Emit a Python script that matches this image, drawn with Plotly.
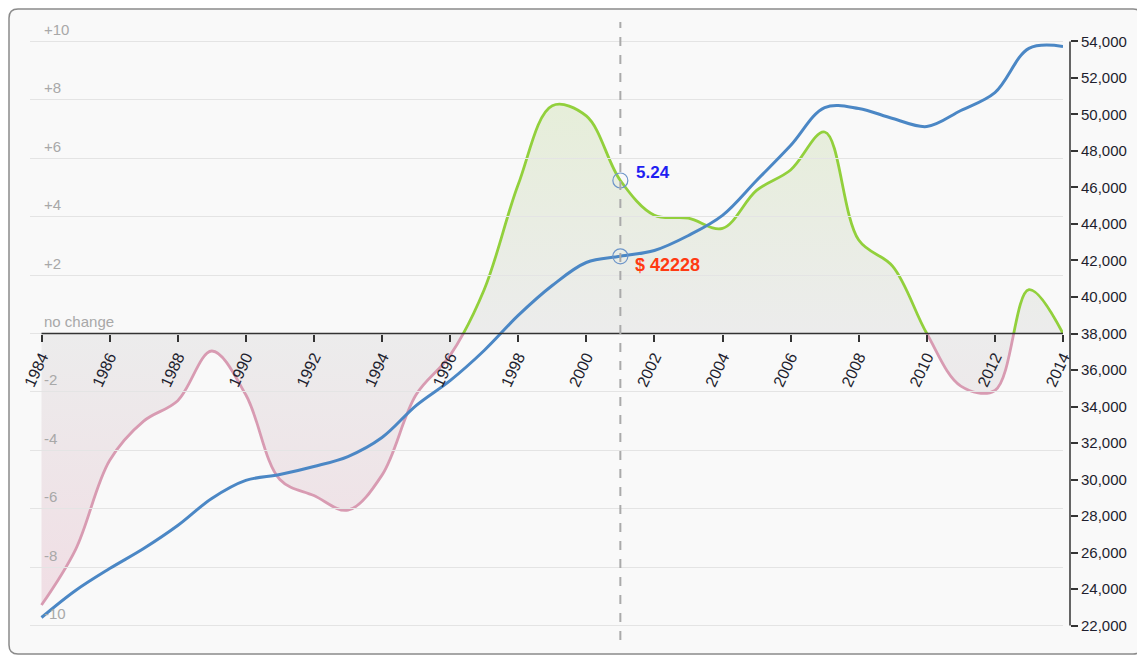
import plotly.graph_objects as go

years = list(range(1984, 2015))

# yearly change (left axis)
change = [-9.3, -7.4, -4.35, -3.0, -2.3, -0.6, -2.1, -5.0, -5.55, -6.05,
          -4.85, -2.1, -0.75, 1.5, 5.1, 7.8, 7.45, 5.24, 4.05, 3.95,
          3.6, 4.9, 5.6, 6.9, 3.2, 2.3, 0.0, -1.8, -1.95, 1.5, 0.0]

# income in dollars (right axis)
income = [22440, 23920, 25120, 26220, 27480, 28960, 29950, 30270, 30710, 31260,
          32300, 34050, 35420, 37070, 38990, 40630, 41890, 42228, 42550, 43370,
          44470, 46380, 48300, 50380, 50330, 49780, 49340, 50220, 51200, 53620,
          53730]

left_ticks = [10, 8, 6, 4, 2, 0, -2, -4, -6, -8, -10]
left_labels = ["+10", "+8", "+6", "+4", "+2", "no change", "-2", "-4", "-6", "-8", "-10"]
income_ticks = list(range(22000, 54001, 2000))

focus_year = 2001
focus_change = 5.24
focus_income = 42228

# the page body has an 8px margin, so the figure is a bit smaller
W, H = 1137, 649
L, R, T, B = 22, 82, 18, 16
PW, PH = W - L - R, H - T - B
YR = 10.53                      # half range of the change axis
INC_MID, INC_HALF = 38000, 16000 * YR / 10


def px(x):
    return (x - L) / PW


def py(y):
    return (H - B - y) / PH


def rounded_rect(x0, y0, x1, y1, r):
    # path in paper coords, corners given in pixels
    p = [
        f"M {px(x0 + r)} {py(y0)}",
        f"L {px(x1 - r)} {py(y0)}",
        f"Q {px(x1)} {py(y0)} {px(x1)} {py(y0 + r)}",
        f"L {px(x1)} {py(y1 - r)}",
        f"Q {px(x1)} {py(y1)} {px(x1 - r)} {py(y1)}",
        f"L {px(x0 + r)} {py(y1)}",
        f"Q {px(x0)} {py(y1)} {px(x0)} {py(y1 - r)}",
        f"L {px(x0)} {py(y0 + r)}",
        f"Q {px(x0)} {py(y0)} {px(x0 + r)} {py(y0)}",
        "Z",
    ]
    return " ".join(p)


xrange_ = [1984 - 11.5 / 34.05, 2014]

fig = go.Figure()

# positive part: only visible in the upper half subplot (clipped there)
fig.add_trace(go.Scatter(
    x=years, y=change, xaxis="x", yaxis="y", mode="lines",
    line=dict(color="#92d03c", width=2.8, shape="spline"),
    fill="tozeroy",
    fillgradient=dict(type="vertical", start=0, stop=8,
                      colorscale=[[0, "#ececec"], [1, "#e6eed9"]]),
    hoverinfo="skip", showlegend=False,
))

# negative part: lower half subplot
fig.add_trace(go.Scatter(
    x=years, y=change, xaxis="x", yaxis="y2", mode="lines",
    line=dict(color="#d89bb2", width=2.8, shape="spline"),
    fill="tozeroy",
    fillgradient=dict(type="vertical", start=-10, stop=0,
                      colorscale=[[0, "#f1dde4"], [1, "#ececec"]]),
    hoverinfo="skip", showlegend=False,
))

fig.add_trace(go.Scatter(
    x=years, y=income, xaxis="x2", yaxis="y4", mode="lines",
    line=dict(color="#4b87c5", width=3, shape="spline"),
    showlegend=False,
))

# focus markers
fig.add_trace(go.Scatter(
    x=[focus_year], y=[focus_change], xaxis="x2", yaxis="y3", mode="markers",
    marker=dict(symbol="circle-open", size=15, color="#6d95c9", line=dict(width=1.2)),
    showlegend=False,
))
fig.add_trace(go.Scatter(
    x=[focus_year], y=[focus_income], xaxis="x2", yaxis="y4", mode="markers",
    marker=dict(symbol="circle-open", size=15, color="#6d95c9", line=dict(width=1.2)),
    showlegend=False,
))

shapes = [
    dict(type="path", xref="paper", yref="paper", layer="below",
         path=rounded_rect(1, 1, 1134, 646, 9),
         fillcolor="#f9f9f9", line=dict(color="#8a8a8a", width=1.5)),
    dict(type="line", xref="x2", yref="y3", x0=years[0], x1=years[-1], y0=0, y1=0,
         line=dict(color="#333", width=1.5), layer="above"),
    # right axis line only spans the tick range
    dict(type="line", xref="paper", yref="y4", x0=px(1062), x1=px(1062),
         y0=income_ticks[0], y1=income_ticks[-1],
         line=dict(color="#333", width=1.5), layer="above"),
    dict(type="line", xref="x2", yref="paper", x0=focus_year, x1=focus_year,
         y0=py(632), y1=py(14), line=dict(color="#aaaaaa", width=2, dash="dash"),
         layer="above"),
]

tick_font = dict(family="Liberation Sans, Arial, sans-serif", size=15, color="#1e1e2e")

# left axis labels sit above their grid lines
annotations = [
    dict(x=px(34), y=v, xref="paper", yref="y3", text=t, showarrow=False,
         xanchor="left", yanchor="middle", yshift=12,
         font=dict(family="Liberation Sans, Arial, sans-serif", size=15, color="#a8a8a8"))
    for v, t in zip(left_ticks, left_labels)
]
annotations += [
    dict(x=focus_year, y=focus_change, xref="x2", yref="y3",
         text=f"<b>{focus_change}</b>", showarrow=False,
         xanchor="left", xshift=14, yshift=8,
         font=dict(size=17, color="#1f1ff2")),
    dict(x=focus_year, y=focus_income, xref="x2", yref="y4",
         text=f"<b>$ {focus_income}</b>", showarrow=False,
         xanchor="left", xshift=13, yshift=-9,
         font=dict(size=18, color="#ff3a12")),
]

fig.update_layout(
    width=W, height=H,
    margin=dict(l=L, r=R, t=T, b=B),
    paper_bgcolor="white",
    plot_bgcolor="rgba(0,0,0,0)",
    font=dict(family="Liberation Sans, Arial, sans-serif"),
    shapes=shapes,
    annotations=annotations,
    xaxis=dict(range=xrange_, visible=False, anchor="y"),
    xaxis2=dict(
        range=xrange_, anchor="free", position=0.5,
        tickvals=list(range(1984, 2015, 2)), tickangle=-65,
        ticks="outside", ticklen=7, tickcolor="#333", tickwidth=1.5,
        showgrid=False, zeroline=False, showline=False,
        tickfont=dict(tick_font, size=16),
    ),
    yaxis=dict(domain=[0.5, 1], range=[0, YR], visible=False, anchor="x"),
    yaxis2=dict(domain=[0, 0.5], range=[-YR, 0], visible=False, anchor="x"),
    yaxis3=dict(
        domain=[0, 1], range=[-YR, YR], anchor="x2",
        tickvals=left_ticks, showticklabels=False,
        showgrid=True, gridcolor="#e4e4e4", gridwidth=1,
        zeroline=False, showline=False, ticks="",
    ),
    yaxis4=dict(
        overlaying="y3", side="right", anchor="free", position=1, shift=7,
        range=[INC_MID - INC_HALF, INC_MID + INC_HALF],
        tickvals=income_ticks, tickformat=",",
        showline=False,
        ticks="outside", ticklen=7, tickcolor="#333", tickwidth=1.5,
        showgrid=False, zeroline=False,
        tickfont=tick_font,
    ),
)

fig.write_html("out.html")
